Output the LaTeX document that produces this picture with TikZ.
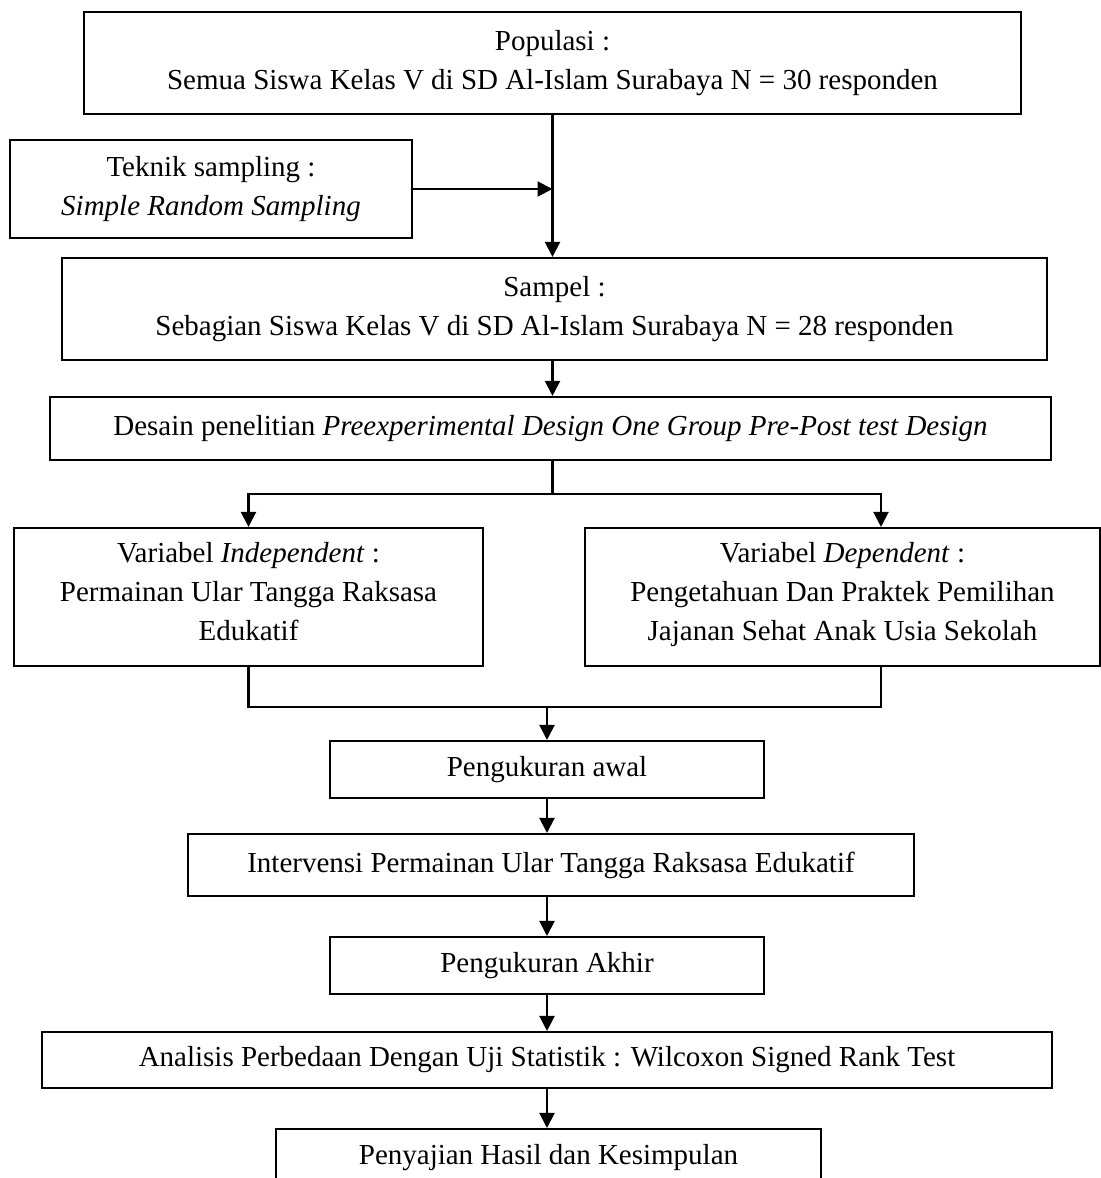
\documentclass[tikz,border=0pt]{standalone}
\usepackage{fontspec}
\setmainfont{Liberation Serif}
\usepackage{tikz}
\usetikzlibrary{positioning,calc,arrows.meta}

\tikzset{
    flowbox/.style={draw, line width=1.2pt, align=center, inner sep=0pt},
    flowarrow/.style={line width=1.2pt, -{Triangle[length=3mm, width=3mm]}},
    flowline/.style={line width=1.2pt},
}

\begin{document}
\begin{tikzpicture}[x=0.02cm, y=-0.02cm, font=\fontsize{16.5}{22.2}\selectfont]
    \useasboundingbox (0, 0) rectangle (1101, 1178);

    % Populasi and sampling
    \node [flowbox, minimum width=18.74cm, minimum height=2.04cm] (pop) at (552.5, 63)
        {Populasi :\\ Semua Siswa Kelas V di SD Al-Islam Surabaya N = 30 responden};
    \node [flowbox, minimum width=8.04cm, minimum height=1.96cm] (tek) at (211, 189)
        {Teknik sampling :\\ \textit{Simple Random Sampling}};
    \node [flowbox, minimum width=19.7cm, minimum height=2.04cm] (sam) at (554.5, 309)
        {Sampel :\\ Sebagian Siswa Kelas V di SD Al-Islam Surabaya N = 28 responden};
    \node [flowbox, minimum width=20.02cm, minimum height=1.26cm] (des) at (550.5, 428.5)
        {Desain penelitian \textit{Preexperimental Design One Group Pre-Post test Design}};

    % Variabel
    \node [flowbox, minimum width=9.38cm, minimum height=2.76cm] (ind) at (248.5, 597)
        {Variabel \textit{Independent} :\\ Permainan Ular Tangga Raksasa\\ Edukatif\strut};
    \node [flowbox, minimum width=10.3cm, minimum height=2.76cm] (dep) at (842.5, 597)
        {Variabel \textit{Dependent} :\\ Pengetahuan Dan Praktek Pemilihan\\ Jajanan Sehat Anak Usia Sekolah\strut};

    % Pengukuran dan analisis
    \node [flowbox, minimum width=8.68cm, minimum height=1.14cm] (awal) at (547, 769.5) {Pengukuran awal};
    \node [flowbox, minimum width=14.52cm, minimum height=1.24cm] (intv) at (551, 865)
        {Intervensi Permainan Ular Tangga Raksasa Edukatif};
    \node [flowbox, minimum width=8.68cm, minimum height=1.14cm] (akhir) at (547, 965.5) {Pengukuran Akhir};
    \node [flowbox, minimum width=20.2cm, minimum height=1.12cm] (anal) at (547, 1060)
        {Analisis Perbedaan Dengan Uji Statistik : Wilcoxon Signed Rank Test};
    \node [flowbox, minimum width=10.9cm, minimum height=1.14cm] (saji) at (548.5, 1157.5)
        {Penyajian Hasil dan Kesimpulan};

    % Trunk
    \draw [flowarrow] (pop.south) -- (pop.south |- sam.north);
    \draw [flowarrow] (tek.east) -- (pop.south |- tek.east);
    \draw [flowarrow] (pop.south |- sam.south) -- (pop.south |- des.north);

    % Split and join
    \coordinate (split) at (552.5, 494);
    \coordinate (rtap) at (881, 0);
    \coordinate (join) at (547, 707);
    \draw [flowline] (pop.south |- des.south) -- (split);
    \draw [flowarrow] (split) -| (ind.north);
    \draw [flowarrow] (split) -| (rtap |- dep.north);
    \draw [flowline] (ind.south) |- (join);
    \draw [flowline] (rtap |- dep.south) |- (join);
    \draw [flowarrow] (join) -- (awal.north);

    % Down the chain
    \draw [flowarrow] (awal.south) -- (awal.south |- intv.north);
    \draw [flowarrow] (awal.south |- intv.south) -- (akhir.north);
    \draw [flowarrow] (akhir.south) -- (anal.north);
    \draw [flowarrow] (anal.south) -- (anal.south |- saji.north);
\end{tikzpicture}
\end{document}
